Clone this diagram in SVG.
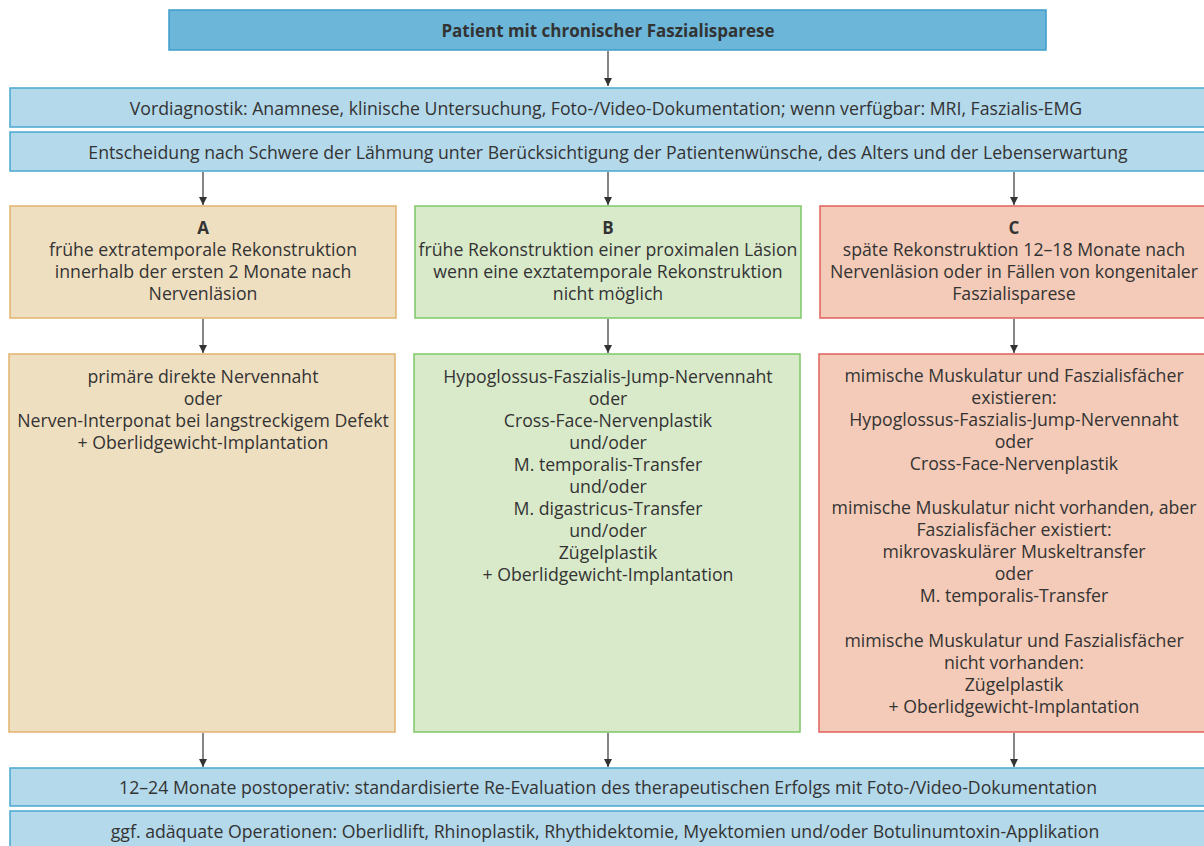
<svg xmlns="http://www.w3.org/2000/svg" width="1204" height="846" viewBox="0 0 1204 846">
<defs>
<marker id="ah" viewBox="0 0 10 10" refX="10" refY="5" markerWidth="8" markerHeight="8" markerUnits="userSpaceOnUse" orient="auto">
<path d="M0,0 L10,5 L0,10 z" fill="#333"/>
</marker>
<style>
text{font-family:"Open Sans","Noto Sans",sans-serif;font-size:17.7px;fill:#333;text-anchor:middle;dominant-baseline:central}
.b{font-weight:bold;font-size:17px}
.dark{fill:#6bb6d9;stroke:#3c9dc9;stroke-width:1.5}
.lb{fill:#b3d9eb;stroke:#4aa6d0;stroke-width:1.5}
.a{fill:#efdfc1;stroke:#e2b36e;stroke-width:1.5}
.g{fill:#d9eacb;stroke:#7cc865;stroke-width:1.5}
.c{fill:#f3cbb8;stroke:#e0625e;stroke-width:1.5}
.conn line{stroke:#444;stroke-width:1.3;marker-end:url(#ah)}
</style>
</defs>
<rect width="1204" height="846" fill="#fff"/>
<g id="n0"><rect class="dark" x="169" y="10" width="877" height="40"/><text class="b" x="608" y="30">Patient mit chronischer Faszialisparese</text></g>
<g id="n1"><rect class="lb" x="10" y="88" width="1200" height="39"/><text x="606" y="108">Vordiagnostik: Anamnese, klinische Untersuchung, Foto-/Video-Dokumentation; wenn verfügbar: MRI, Faszialis-EMG</text></g>
<g id="n2"><rect class="lb" x="10" y="132" width="1200" height="39"/><text x="608" y="152">Entscheidung nach Schwere der Lähmung unter Berücksichtigung der Patientenwünsche, des Alters und der Lebenserwartung</text></g>
<g id="nA"><rect class="a" x="10" y="206" width="386" height="112"/>
<text class="b" x="203" y="227">A</text><text x="203" y="249">frühe extratemporale Rekonstruktion</text><text x="203" y="271">innerhalb der ersten 2 Monate nach</text><text x="203" y="293">Nervenläsion</text></g>
<g id="nB"><rect class="g" x="415" y="206" width="386" height="112"/>
<text class="b" x="608" y="227">B</text><text x="608" y="249">frühe Rekonstruktion einer proximalen Läsion</text><text x="608" y="271">wenn eine exztatemporale Rekonstruktion</text><text x="608" y="293">nicht möglich</text></g>
<g id="nC"><rect class="c" x="820" y="206" width="390" height="112"/>
<text class="b" x="1014" y="227">C</text><text x="1014" y="249">späte Rekonstruktion 12–18 Monate nach</text><text x="1014" y="271">Nervenläsion oder in Fällen von kongenitaler</text><text x="1014" y="293">Faszialisparese</text></g>
<g id="nA2"><rect class="a" x="9" y="354" width="386" height="378"/>
<text x="203" y="376">primäre direkte Nervennaht</text><text x="203" y="398">oder</text><text x="203" y="420">Nerven-Interponat bei langstreckigem Defekt</text><text x="203" y="442">+ Oberlidgewicht-Implantation</text></g>
<g id="nB2"><rect class="g" x="414" y="354" width="386" height="378"/>
<text x="608" y="376">Hypoglossus-Faszialis-Jump-Nervennaht</text><text x="608" y="398">oder</text><text x="608" y="420">Cross-Face-Nervenplastik</text><text x="608" y="442">und/oder</text><text x="608" y="464">M. temporalis-Transfer</text><text x="608" y="486">und/oder</text><text x="608" y="508">M. digastricus-Transfer</text><text x="608" y="530">und/oder</text><text x="608" y="552">Zügelplastik</text><text x="608" y="574">+ Oberlidgewicht-Implantation</text></g>
<g id="nC2"><rect class="c" x="819" y="354" width="390" height="378"/>
<text x="1014" y="375">mimische Muskulatur und Faszialisfächer</text><text x="1014" y="397">existieren:</text><text x="1014" y="419">Hypoglossus-Faszialis-Jump-Nervennaht</text><text x="1014" y="441">oder</text><text x="1014" y="463">Cross-Face-Nervenplastik</text>
<text x="1014" y="507">mimische Muskulatur nicht vorhanden, aber</text><text x="1014" y="529">Faszialisfächer existiert:</text><text x="1014" y="551">mikrovaskulärer Muskeltransfer</text><text x="1014" y="573">oder</text><text x="1014" y="595">M. temporalis-Transfer</text>
<text x="1014" y="640">mimische Muskulatur und Faszialisfächer</text><text x="1014" y="662">nicht vorhanden:</text><text x="1014" y="684">Zügelplastik</text><text x="1014" y="706">+ Oberlidgewicht-Implantation</text></g>
<g id="n3"><rect class="lb" x="10" y="768" width="1200" height="38"/><text x="608" y="787">12–24 Monate postoperativ: standardisierte Re-Evaluation des therapeutischen Erfolgs mit Foto-/Video-Dokumentation</text></g>
<g id="n4"><rect class="lb" x="10" y="811" width="1200" height="45"/><text x="605" y="831">ggf. adäquate Operationen: Oberlidlift, Rhinoplastik, Rhythidektomie, Myektomien und/oder Botulinumtoxin-Applikation</text></g>
<g class="conn" id="connectors">
<line x1="608" y1="51" x2="608" y2="86"/>
<line x1="203" y1="172" x2="203" y2="205"/>
<line x1="608" y1="172" x2="608" y2="205"/>
<line x1="1014" y1="172" x2="1014" y2="205"/>
<line x1="203" y1="319" x2="203" y2="353"/>
<line x1="608" y1="319" x2="608" y2="353"/>
<line x1="1014" y1="319" x2="1014" y2="353"/>
<line x1="203" y1="733" x2="203" y2="767"/>
<line x1="608" y1="733" x2="608" y2="767"/>
<line x1="1014" y1="733" x2="1014" y2="767"/>
</g>
</svg>
